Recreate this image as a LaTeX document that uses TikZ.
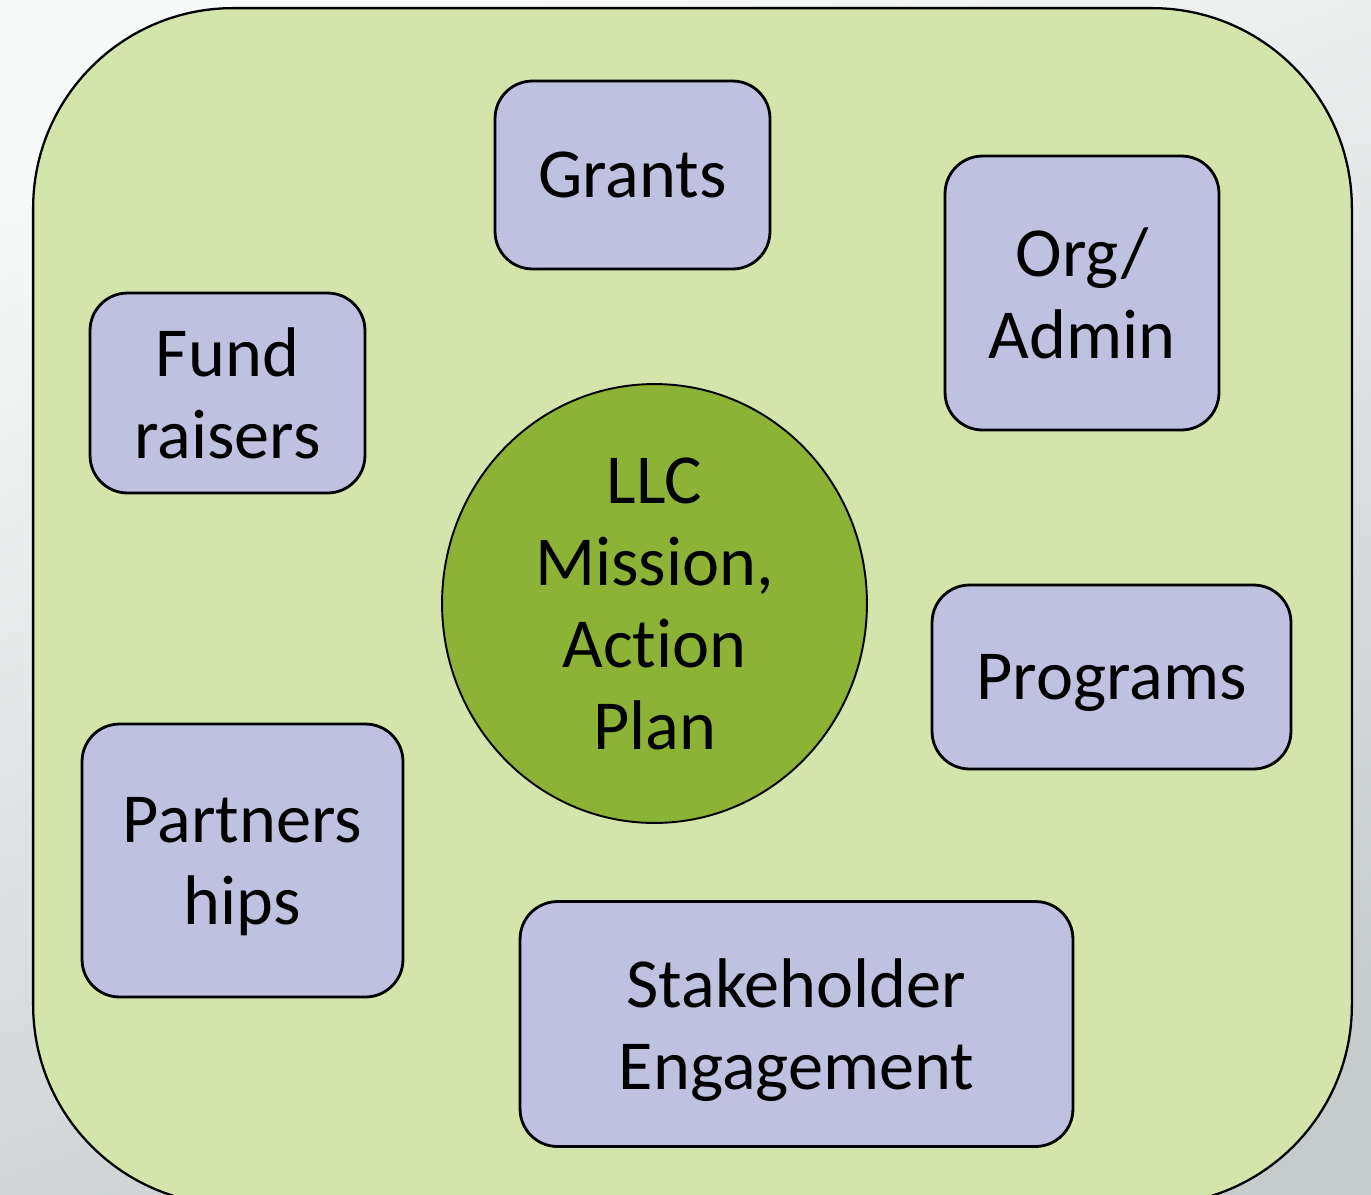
\documentclass[tikz,border=0pt]{standalone}
\usepackage{fontspec}
\setmainfont[Ligatures=NoCommon]{Carlito}
\usetikzlibrary{positioning,shapes.geometric}
\definecolor{paper}{HTML}{F8F9F9}
\definecolor{slate}{HTML}{C6CBCC}
\definecolor{panel}{HTML}{D3E5AA}
\definecolor{lav}{HTML}{BEC1E0}
\definecolor{leaf}{HTML}{8CB335}

\begin{document}
\begin{tikzpicture}[x=0.02cm,y=-0.02cm,
  every node/.style={align=center,inner sep=0pt,text depth=0pt,%
    font=\fontsize{40pt}{46.7pt}\selectfont},%
  re/.style={rectangle,rounded corners=0.75cm,draw=black,line width=1.6pt},%
  lv/.style={fill=lav},%
  el/.style={ellipse,draw=black,line width=1.1pt,fill=leaf},%
  ]
  \useasboundingbox (0,0) rectangle (1371,1194);
  \clip (0,0) rectangle (1371,1194);
  \shade [top color=paper,bottom color=slate,shading angle=20]
    (0,0) rectangle (1371,1194);

  % big panel, runs off the bottom edge
  \node (panel) [draw=black,fill=panel,line width=1.3pt,rounded corners=4cm,%
    minimum width=26.38cm,minimum height=23.94cm] at (692.5,606.5) {};

  \node (llc) [el,minimum width=8.5cm,minimum height=8.78cm%
  ] at (654.5,603.5) {LLC\\Mission,\\Action\\Plan};

  \node (grants) [re,lv,minimum width=5.5cm,minimum height=3.76cm%
  ] at (632.5,175) {Grants};
  \node (org) [re,lv,minimum width=5.48cm,minimum height=5.48cm%
  ] at (1082,293) {Org/\\Admin};
  \node (fund) [re,lv,minimum width=5.5cm,minimum height=4cm%
  ] at (227.5,393) {Fund\\raisers};
  \node (prog) [re,lv,minimum width=7.18cm,minimum height=3.68cm%
  ] at (1111.5,677) {Programs};
  \node (partner) [re,lv,minimum width=6.42cm,minimum height=5.46cm%
  ] at (242.5,860.5) {Partners\\hips};
  \node (stake) [re,lv,minimum width=11.06cm,minimum height=4.9cm%
  ] at (796.5,1024) {Stakeholder\\Engagement};
\end{tikzpicture}
\end{document}
